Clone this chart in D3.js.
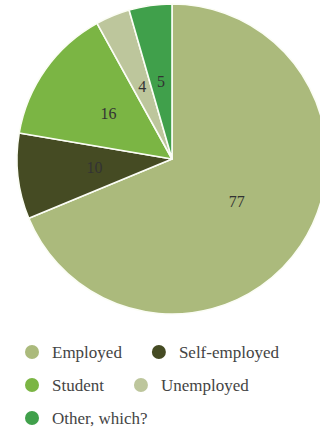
<!DOCTYPE html>
<html>
<head>
<meta charset="utf-8">
<script src="https://cdn.jsdelivr.net/npm/d3@7"></script>
<style>
  html, body { margin: 0; padding: 0; background: #fff; }
  svg { display: block; }
</style>
</head>
<body>
<svg id="chart" width="320" height="432"></svg>
<script>
// Employment status of respondents
const categories = ["Employed", "Self-employed", "Student", "Unemployed", "Other, which?"];
const counts = [77, 10, 16, 4, 5];
const colors = ["#abba7c", "#454b23", "#7bb544", "#bdc69c", "#40a04b"];

const svg = d3.select("#chart");
const cx = 172, cy = 159, radius = 155, labelRadius = 78;

const data = categories.map((c, i) => ({ name: c, value: counts[i], color: colors[i] }));

const pie = d3.pie().value(d => d.value).sort(null);
const arc = d3.arc().innerRadius(0).outerRadius(radius);
const labelArc = d3.arc().innerRadius(labelRadius).outerRadius(labelRadius);

const g = svg.append("g").attr("transform", `translate(${cx},${cy})`);
const arcs = pie(data);

g.selectAll("path.slice")
  .data(arcs)
  .join("path")
  .attr("class", "slice")
  .attr("d", arc)
  .attr("fill", d => d.data.color)
  .attr("stroke", "#fbfdf5")
  .attr("stroke-width", 1.6)
  .attr("stroke-linejoin", "round");

g.selectAll("text.value")
  .data(arcs)
  .join("text")
  .attr("class", "value")
  .attr("transform", d => `translate(${labelArc.centroid(d)})`)
  .attr("text-anchor", "middle")
  .attr("dy", "0.3em")
  .attr("font-family", "'Liberation Serif', 'DejaVu Serif', serif")
  .attr("font-size", 16)
  .attr("fill", "#333")
  .text(d => d.data.value);

// Legend: items flow left to right and wrap to a new row
const legend = svg.append("g");
const legendLeft = 32, legendTop = 352, rowStep = 33, maxRight = 310;
const dotR = 7, textGap = 20, itemGap = 30;
let x = legendLeft, y = legendTop;

data.forEach(d => {
  const item = legend.append("g");
  const t = item.append("text")
    .attr("x", textGap)
    .attr("y", 0)
    .attr("dominant-baseline", "central")
    .attr("font-family", "'Liberation Serif', 'DejaVu Serif', serif")
    .attr("font-size", 17)
    .attr("fill", "#444")
    .text(d.name);
  const w = textGap + t.node().getComputedTextLength();
  if (x !== legendLeft && x + w > maxRight) {
    x = legendLeft;
    y += rowStep;
  }
  item.attr("transform", `translate(${x},${y})`);
  item.insert("circle", "text")
    .attr("r", dotR)
    .attr("fill", d.color);
  x += w + itemGap + dotR;
});
</script>
</body>
</html>
